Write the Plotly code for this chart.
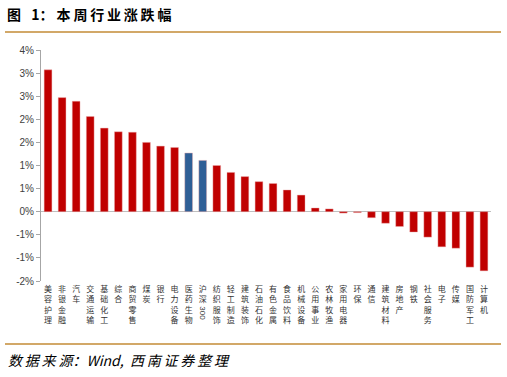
import plotly.graph_objects as go

categories = ["美容护理", "非银金融", "汽车", "交通运输", "基础化工", "综合", "商贸零售", "煤炭",
              "银行", "电力设备", "医药生物", "沪深300", "纺织服饰", "轻工制造", "建筑装饰", "石油石化",
              "有色金属", "食品饮料", "机械设备", "公用事业", "农林牧渔", "家用电器", "环保", "通信",
              "建筑材料", "房地产", "钢铁", "社会服务", "电子", "传媒", "国防军工", "计算机"]
values = [3.07, 2.47, 2.39, 2.06, 1.81, 1.73, 1.72, 1.50,
          1.42, 1.39, 1.27, 1.11, 1.00, 0.85, 0.76, 0.65,
          0.61, 0.47, 0.36, 0.08, 0.06, -0.03, -0.02, -0.13,
          -0.25, -0.32, -0.44, -0.55, -0.76, -0.79, -1.20, -1.28]
highlight = ["医药生物", "沪深300"]
y_tickvals = [3.5, 3, 2.5, 2, 1.5, 1, 0.5, 0, -0.5, -1, -1.5]
y_ticktext = ["4%", "3%", "3%", "2%", "2%", "1%", "1%", "0%", "-1%", "-1%", "-2%"]

RED = "#C00000"
BLUE = "#2F5F96"
GOLD = "#D2A868"

colors = [BLUE if c in highlight else RED for c in categories]


def vertical(label):
    if label == "沪深300":
        return "沪<br>深"
    return "<br>".join(list(label))


fig = go.Figure()
fig.add_trace(go.Bar(
    x=categories, y=values,
    marker=dict(color=colors, line=dict(color="rgba(235,170,170,0.7)", width=0.6)),
    width=0.55,
))

W, H = 507, 377
L, R, T = 41, 507 - 491, 50
B = H - 281
pw = W - L - R
ph = H - T - B


def px_x(px):
    return (px - L) / pw


def px_y(py):
    return (281 - py) / ph


fig.update_layout(
    width=W, height=H,
    margin=dict(l=L, r=R, t=T, b=B, autoexpand=False),
    paper_bgcolor="white", plot_bgcolor="white",
    showlegend=False,
    font=dict(family="Noto Sans CJK SC", color="#333333"),
    xaxis=dict(
        type="category",
        tickmode="array", tickvals=categories,
        ticktext=[vertical(c) for c in categories],
        tickangle=0,
        showline=False, showgrid=False, zeroline=False, ticks="",
        tickfont=dict(size=8, family="Noto Sans CJK SC", color="#333333"),
        ticklabelstandoff=2,
        range=[-0.5, len(categories) - 0.5],
    ),
    yaxis=dict(
        range=[-1.5, 3.5],
        tickmode="array", tickvals=y_tickvals, ticktext=y_ticktext,
        showgrid=False, zeroline=True, zerolinecolor="#BFBFBF", zerolinewidth=1,
        showline=True, linecolor="#A6A6A6", linewidth=1,
        ticks="outside", ticklen=4, tickcolor="#A6A6A6",
        tickfont=dict(size=10, family="Liberation Sans", color="#404040"),
    ),
)

# rotated "300" part of 沪深300 label
fig.add_annotation(
    x="沪深300", y=px_y(313), xref="x", yref="paper",
    text="300", textangle=90, showarrow=False,
    font=dict(size=8, family="Liberation Sans", color="#333333"),
    xanchor="center", yanchor="middle",
)

# title
fig.add_annotation(
    x=px_x(5), y=px_y(14), xref="paper", yref="paper",
    text="<b>图\u2002 1： 本\u2009周\u2009行\u2009业\u2009涨\u2009跌\u2009幅</b>",
    showarrow=False, xanchor="left", yanchor="middle",
    font=dict(size=14, family="Noto Sans CJK SC", color="#000000"),
)
# footer
fig.add_annotation(
    x=px_x(6), y=px_y(360), xref="paper", yref="paper",
    text="<i>数\u2009据\u2009来\u2009源：Wind,  西\u2009南\u2009证\u2009券\u2009整\u2009理</i>",
    showarrow=False, xanchor="left", yanchor="middle",
    font=dict(size=14, family="Noto Sans CJK SC", color="#000000"),
)

# rules
for py in (32, 344):
    fig.add_shape(type="line", xref="paper", yref="paper",
                  x0=px_x(5), x1=px_x(501), y0=px_y(py), y1=px_y(py),
                  line=dict(color=GOLD, width=2))

fig.write_html("out.html", config={"displayModeBar": False},
               post_script="document.body.style.margin='0';")
